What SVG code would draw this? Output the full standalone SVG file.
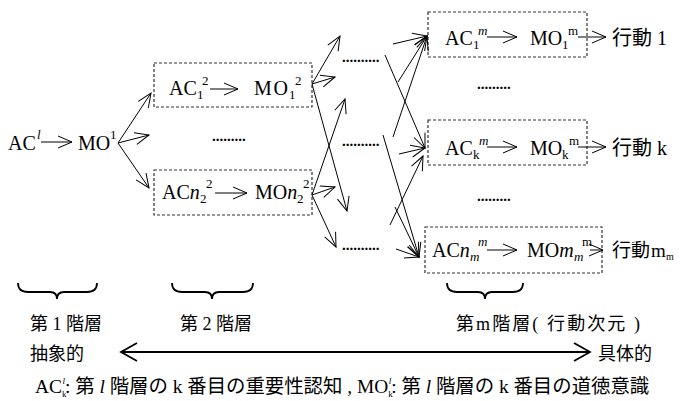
<svg xmlns="http://www.w3.org/2000/svg" width="680" height="401" viewBox="0 0 680 401">
<style>
  text { font-family: "Liberation Serif", "Noto Sans CJK JP", serif; fill: #000; }
  .t { font-size: 20px; }
  .s { font-size: 13px; }
  .i { font-style: italic; }
  .j { font-size: 18px; }
  .cap { font-size: 19.4px; }
  .d { font-size: 15px; font-weight: bold; }
  .box { fill: none; stroke: #333; stroke-width: 1.2; stroke-dasharray: 3 2; }
  .c { stroke: #000; stroke-width: 1; fill: none; marker-end: url(#ah); }
  .br { fill: none; stroke: #000; stroke-width: 1.8; }
</style>
<defs>
  <marker id="ah" markerUnits="userSpaceOnUse" markerWidth="18" markerHeight="14" refX="15" refY="7" orient="auto">
    <path d="M1,1 L15,7 L1,13" fill="none" stroke="#000" stroke-width="1"/>
  </marker>
  <marker id="big" markerUnits="userSpaceOnUse" markerWidth="22" markerHeight="22" refX="18" refY="11" orient="auto-start-reverse">
    <path d="M2,2 L18,11 L2,20" fill="none" stroke="#000" stroke-width="1.8"/>
  </marker>
</defs>

<!-- Level 1 -->
<g id="level1">
  <text class="t" x="8" y="150">AC</text>
  <text class="s i" x="37" y="139">l</text>
  <line class="c" x1="41" y1="142" x2="72" y2="142"/>
  <text class="t" x="78" y="150">MO</text>
  <text class="s" x="110" y="139">1</text>
</g>

<!-- Level 2 upper -->
<g id="l2-top">
  <rect class="box" x="154" y="63" width="158" height="44"/>
  <text class="t" x="169" y="95">AC</text>
  <text class="s" x="197" y="99">1</text>
  <text class="s" x="202" y="85">2</text>
  <line class="c" x1="210" y1="89" x2="238" y2="89"/>
  <text class="t" x="254" y="95" textLength="34" lengthAdjust="spacing">MO</text>
  <text class="s" x="289" y="99">1</text>
  <text class="s" x="295" y="85">2</text>
</g>

<!-- Level 2 lower -->
<g id="l2-bot">
  <rect class="box" x="154" y="170" width="158" height="45"/>
  <text class="t" x="162" y="199">AC<tspan class="i">n</tspan></text>
  <text class="s" x="200" y="203">2</text>
  <text class="s" x="206" y="188">2</text>
  <line class="c" x1="215" y1="193" x2="247" y2="193"/>
  <text class="t" x="255" y="199">MO<tspan class="i">n</tspan></text>
  <text class="s" x="297" y="203">2</text>
  <text class="s" x="303" y="188">2</text>
</g>

<g id="l2-dots"><text class="d" x="212" y="141">.........</text></g>

<!-- middle dots -->
<g id="mid-dots">
  <text class="d" x="342" y="62">..........</text>
  <text class="d" x="342" y="146">..........</text>
  <text class="d" x="342" y="250">..........</text>
</g>

<!-- Level m top -->
<g id="lm-1">
  <rect class="box" x="428" y="12" width="159" height="45"/>
  <text class="t" x="445" y="45">AC</text>
  <text class="s" x="473" y="49">1</text>
  <text class="s i" x="478" y="35">m</text>
  <line class="c" x1="487" y1="37" x2="517" y2="37"/>
  <text class="t" x="530" y="45">MO</text>
  <text class="s" x="562" y="49">1</text>
  <text class="s" x="568" y="35">m</text>
  <line class="c" x1="578" y1="37" x2="606" y2="37"/>
  <text class="t" x="612" y="45">行動 1</text>
</g>

<g id="lm-k">
  <rect class="box" x="428" y="120" width="159" height="45"/>
  <text class="t" x="445" y="155">AC</text>
  <text class="s" x="473" y="159">k</text>
  <text class="s i" x="479" y="145">m</text>
  <line class="c" x1="487" y1="147" x2="517" y2="147"/>
  <text class="t" x="530" y="155">MO</text>
  <text class="s" x="562" y="159">k</text>
  <text class="s" x="569" y="145">m</text>
  <line class="c" x1="578" y1="147" x2="606" y2="147"/>
  <text class="t" x="612" y="155">行動 k</text>
</g>

<g id="lm-m">
  <rect class="box" x="425" y="227" width="177" height="46"/>
  <text class="t" x="432" y="257">AC<tspan class="i">n</tspan></text>
  <text class="s i" x="470" y="261">m</text>
  <text class="s i" x="478" y="246">m</text>
  <line class="c" x1="487" y1="250" x2="517" y2="250"/>
  <text class="t" x="527" y="257">MO<tspan class="i">m</tspan></text>
  <text class="s i" x="574" y="261">m</text>
  <text class="s" x="582" y="246">m</text>
  <line class="c" x1="590" y1="250" x2="603" y2="250"/>
  <text x="612" y="257" font-size="19">行動</text>
  <text x="651" y="257" font-size="19">m</text>
  <text x="666" y="260" font-size="10">m</text>
</g>

<g id="lm-dots">
  <text class="d" x="477" y="89">.........</text>
  <text class="d" x="477" y="201">.........</text>
</g>

<!-- Connectors -->
<g id="connectors">
  <line class="c" x1="118" y1="143" x2="151" y2="93"/>
  <line class="c" x1="118" y1="143" x2="149" y2="135"/>
  <line class="c" x1="118" y1="143" x2="149" y2="188"/>

  <line class="c" x1="312" y1="84" x2="340" y2="36"/>
  <line class="c" x1="312" y1="84" x2="335" y2="77"/>
  <line class="c" x1="312" y1="84" x2="347" y2="211"/>
  <line class="c" x1="312" y1="195" x2="345" y2="99"/>
  <line class="c" x1="312" y1="195" x2="335" y2="187"/>
  <line class="c" x1="312" y1="195" x2="336" y2="247"/>

  <line class="c" x1="393" y1="44" x2="427" y2="36"/>
  <line class="c" x1="398" y1="82" x2="427" y2="36"/>
  <line class="c" x1="393" y1="137" x2="427" y2="36"/>
  <line class="c" x1="385" y1="55" x2="425" y2="148"/>
  <line class="c" x1="399" y1="154" x2="425" y2="148"/>
  <line class="c" x1="390" y1="225" x2="423" y2="156"/>
  <line class="c" x1="383" y1="135" x2="419" y2="257"/>
  <line class="c" x1="395" y1="207" x2="419" y2="257"/>
  <line class="c" x1="396" y1="249" x2="419" y2="257"/>

  <line x1="121" y1="352" x2="590" y2="352" stroke="#000" stroke-width="1.8" marker-start="url(#big)" marker-end="url(#big)"/>
</g>

<!-- Braces -->
<g id="braces">
  <path class="br" d="M18,283 Q18,292 28,292 L50,292 Q57,292 57,299 Q57,292 64,292 L87,292 Q97,292 97,283"/>
  <path class="br" d="M172,283 Q172,292 182,292 L205,292 Q212,292 212,299 Q212,292 219,292 L243,292 Q253,292 253,283"/>
  <path class="br" d="M447,283 Q447,292 457,292 L478,292 Q485,292 485,299 Q485,292 492,292 L513,292 Q523,292 523,283"/>
</g>

<g id="labels">
  <text class="j" x="30" y="330">第 1 階層</text>
  <text class="j" x="180" y="330">第 2 階層</text>
  <text class="j" x="456" y="330" textLength="184" lengthAdjust="spacing">第m階層( 行動次元 )</text>
  <text class="j" x="30" y="360">抽象的</text>
  <text class="j" x="598" y="360">具体的</text>
</g>

<g id="caption">
  <text class="cap" x="35" y="393">AC<tspan font-size="9" dy="4">k</tspan><tspan font-size="9" font-style="italic" dx="-4" dy="-13">l</tspan><tspan dy="9">: 第 </tspan><tspan font-style="italic">l</tspan> 階層の k 番目の重要性認知 , MO<tspan font-size="9" dy="4">k</tspan><tspan font-size="9" font-style="italic" dx="-4" dy="-13">l</tspan><tspan dy="9">: 第 </tspan><tspan font-style="italic">l</tspan> 階層の k 番目の道徳意識</text>
</g>
</svg>
